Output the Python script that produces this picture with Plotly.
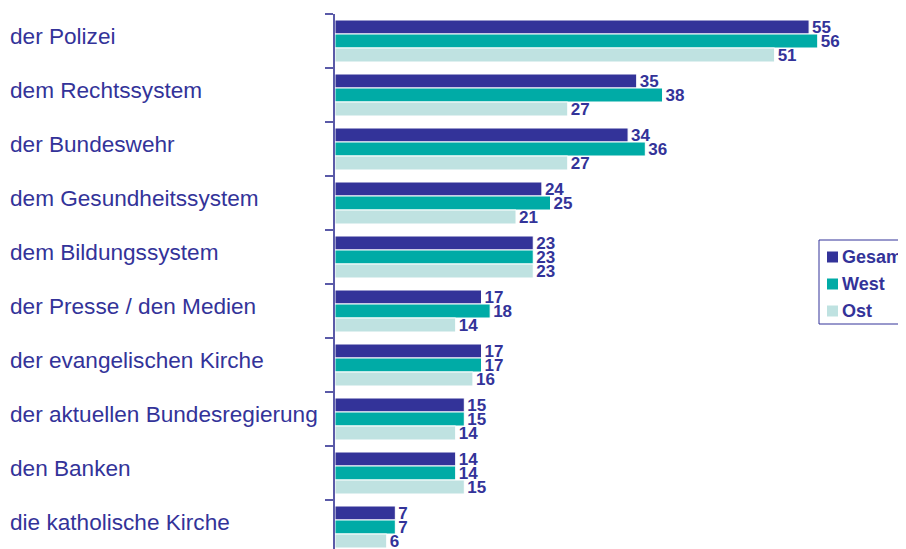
import plotly.graph_objects as go

categories = [
    "der Polizei",
    "dem Rechtssystem",
    "der Bundeswehr",
    "dem Gesundheitssystem",
    "dem Bildungssystem",
    "der Presse / den Medien",
    "der evangelischen Kirche",
    "der aktuellen Bundesregierung",
    "den Banken",
    "die katholische Kirche",
]
gesamt = [55, 35, 34, 24, 23, 17, 17, 15, 14, 7]
west = [56, 38, 36, 25, 23, 18, 17, 15, 14, 7]
ost = [51, 27, 27, 21, 23, 14, 16, 14, 15, 6]

series_names = ["Gesamt", "West", "Ost"]
series_values = [gesamt, west, ost]
series_colors = ["#333399", "#00ABA6", "#BFE2E1"]

FONT = "Liberation Sans, Arial, sans-serif"
TXT = "#333399"

# page body margin (8px) is compensated so the plot lands where the reference has it
OFF = 8
W, H = 906 - OFF, 549 - OFF
ML, MT = 335 - OFF, 14 - OFF
PW = W - ML
PH = H - MT
px_per_unit = 8.62
cat_px = 54.0


def pxx(x):
    return (x - OFF - ML) / PW


def pxy(y):
    return 1 - (y - OFF - MT) / PH


fig = go.Figure()
for name, vals, color in zip(series_names, series_values, series_colors):
    fig.add_trace(go.Bar(
        name=name,
        y=categories,
        x=vals,
        orientation="h",
        marker=dict(color=color, line=dict(color="white", width=1)),
        text=[str(v) for v in vals],
        textposition="outside",
        textfont=dict(family=FONT, size=17, color=TXT),
        texttemplate="<b>%{text}</b>",
        constraintext="none",
        cliponaxis=False,
        showlegend=False,
    ))

# category labels, left aligned
for c in categories:
    fig.add_annotation(
        x=pxx(8), xref="paper", xanchor="left",
        y=c, yref="y", yanchor="middle", yshift=5,
        text=c, showarrow=False,
        font=dict(family=FONT, size=22.6, color=TXT),
    )

# legend box (clipped at the right edge like the reference)
shapes = [dict(type="rect", xref="paper", yref="paper",
               x0=pxx(819), x1=pxx(930), y0=pxy(324), y1=pxy(240),
               line=dict(color="#333399", width=1), fillcolor="white", layer="above")]
leg_y = [257, 284, 311]
for name, color, ly in zip(series_names, series_colors, leg_y):
    shapes.append(dict(type="rect", xref="paper", yref="paper",
                       x0=pxx(827), x1=pxx(838), y0=pxy(ly + 5.5), y1=pxy(ly - 5.5),
                       line=dict(width=0), fillcolor=color, layer="above"))
    fig.add_annotation(
        x=pxx(840), xref="paper", xanchor="left",
        y=pxy(ly), yref="paper", yanchor="middle",
        text=f"<b>{name}</b>", showarrow=False,
        font=dict(family=FONT, size=18, color=TXT),
    )

fig.update_layout(
    width=W, height=H,
    margin=dict(l=ML, r=W - ML - PW, t=MT, b=0, pad=0, autoexpand=False),
    paper_bgcolor="white", plot_bgcolor="white",
    barmode="group", bargap=12 / 54, bargroupgap=0,
    showlegend=False,
    shapes=shapes,
    xaxis=dict(
        range=[0, PW / px_per_unit],
        visible=False, fixedrange=True,
    ),
    yaxis=dict(
        type="category",
        categoryorder="array", categoryarray=categories,
        range=[-0.5 + PH / cat_px, -0.5],
        showticklabels=False,
        showline=True, linecolor="#5A5AA8", linewidth=2,
        ticks="outside", ticklen=8, tickwidth=2, tickcolor="#5A5AA8",
        tickson="boundaries",
        showgrid=False, zeroline=False,
    ),
)

fig.write_html("out.html")
